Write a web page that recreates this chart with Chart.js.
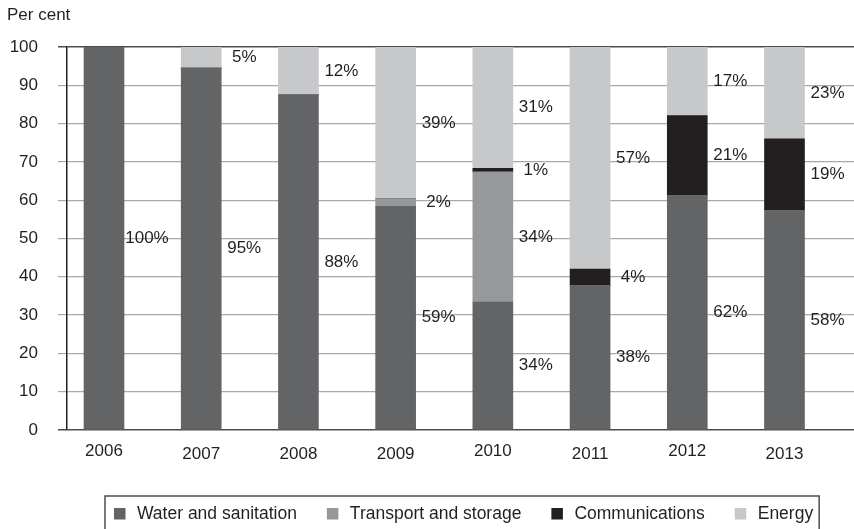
<!DOCTYPE html>
<html>
<head>
<meta charset="utf-8">
<script src="https://cdn.jsdelivr.net/npm/chart.js@4.4.0/dist/chart.umd.min.js"></script>
<style>
  html, body { margin: 0; padding: 0; background: #ffffff; }
  #wrap { width: 854px; height: 529px; position: relative; }
</style>
</head>
<body>
<div id="wrap"><canvas id="c" width="854" height="529"></canvas></div>
<script>
// ---- Data ----
const years = ['2006', '2007', '2008', '2009', '2010', '2011', '2012', '2013'];
const seriesNames = ['Water and sanitation', 'Transport and storage', 'Communications', 'Energy'];
const water          = [100, 94.5, 87.5, 58.4, 33.4, 37.7, 61.2, 57.3];
const transport      = [0,   0,    0,    2.0,  34.0, 0,    0,    0];
const communications = [0,   0,    0,    0,    0.9,  4.3,  20.9, 18.7];
const energy         = [0,   5.5,  12.5, 39.6, 31.7, 58.0, 17.9, 24.0];
const waterLabels          = ['100%', '95%', '88%', '59%', '34%', '38%', '62%', '58%'];
const transportLabels      = ['', '', '', '2%', '34%', '', '', ''];
const communicationsLabels = ['', '', '', '', '1%', '4%', '21%', '19%'];
const energyLabels         = ['', '5%', '12%', '39%', '31%', '57%', '17%', '23%'];
const yTicks = [0, 10, 20, 30, 40, 50, 60, 70, 80, 90, 100];

// ---- Styles ----
const FONT = '"Liberation Sans", Arial, Helvetica, sans-serif';
const TEXT = '#231f20';
const colors = ['#636466', '#97989b', '#231f20', '#c7c8ca'];
const raisedTickLabels = ['2006', '2010', '2012']; // slightly higher year labels in the original

const valueSets = [water, transport, communications, energy];
const labelSets = [waterLabels, transportLabels, communicationsLabels, energyLabels];

const datasets = valueSets.map((vals, k) => ({
  label: seriesNames[k],
  data: vals.map((v, i) => ({ x: i, y: v })),
  backgroundColor: colors[k],
  borderWidth: 0,
  barThickness: 40,
  pointLabels: labelSets[k]
}));

const valueLabelPlugin = {
  id: 'valueLabels',
  afterDatasetsDraw(chart) {
    const ctx = chart.ctx;
    ctx.save();
    ctx.font = '17px ' + FONT;
    ctx.fillStyle = TEXT;
    ctx.textAlign = 'center';
    ctx.textBaseline = 'middle';
    chart.data.datasets.forEach((ds, k) => {
      const meta = chart.getDatasetMeta(k);
      meta.data.forEach((bar, i) => {
        const txt = ds.pointLabels[i];
        if (!txt) return;
        const p = bar.getProps(['x', 'y', 'base'], true);
        ctx.fillText(txt, p.x + 43, (p.y + p.base) / 2);
      });
    });
    ctx.restore();
  }
};

const extrasPlugin = {
  id: 'extras',
  afterDraw(chart) {
    const ctx = chart.ctx;
    ctx.save();
    // axis title
    ctx.font = '17px ' + FONT;
    ctx.fillStyle = TEXT;
    ctx.textAlign = 'left';
    ctx.textBaseline = 'alphabetic';
    ctx.fillText('Per cent', 7, 20);

    // legend
    ctx.font = '17.5px ' + FONT;
    ctx.textBaseline = 'middle';
    let x = 114;
    const cy = 514;
    chart.data.datasets.forEach((ds, k) => {
      ctx.fillStyle = ds.backgroundColor;
      ctx.fillRect(x, cy - 6, 11.5, 11.5);
      ctx.fillStyle = TEXT;
      ctx.fillText(ds.label, x + 23, cy);
      const w = ctx.measureText(ds.label).width;
      x += 23 + w + (k < chart.data.datasets.length - 1 ? 30 : 0);
    });
    ctx.strokeStyle = '#4d4d4d';
    ctx.lineWidth = 1.5;
    ctx.strokeRect(105, 496, x + 6 - 105, 50);
    ctx.restore();
  }
};

new Chart(document.getElementById('c'), {
  type: 'bar',
  data: { datasets },
  options: {
    responsive: false,
    animation: false,
    devicePixelRatio: 1,
    layout: { padding: { left: 0, right: 0, top: 47, bottom: 49 } },
    plugins: { legend: { display: false }, tooltip: { enabled: false } },
    scales: {
      x: {
        type: 'linear',
        stacked: true,
        offset: false,
        min: -0.3806,
        max: 7.715,
        grid: { display: false, drawTicks: false, offset: false },
        border: { display: false },
        ticks: {
          stepSize: 1,
          includeBounds: false,
          padding: 13,
          color: TEXT,
          font: (c) => {
            const lbl = c.tick ? years[c.tick.value] : undefined;
            const raised = raisedTickLabels.includes(lbl);
            return { family: FONT, size: 17, lineHeight: raised ? 1.0 : 1.3 };
          },
          callback: (v) => (years[v] !== undefined ? years[v] : '')
        },
        afterFit: (s) => { s.height = 50; }
      },
      y: {
        stacked: true,
        min: 0,
        max: 100,
        afterBuildTicks: (s) => { s.ticks = yTicks.map(v => ({ value: v })); },
        ticks: {
          padding: 20,
          color: TEXT,
          font: { family: FONT, size: 17 }
        },
        grid: {
          drawTicks: true,
          tickLength: 9,
          color: (c) => (c.tick && (c.tick.value === 0 || c.tick.value === 100)) ? '#4d4d4d' : '#a9a9a9',
          lineWidth: (c) => (c.tick && (c.tick.value === 0 || c.tick.value === 100)) ? 1.5 : 1.2
        },
        border: { display: true, color: TEXT, width: 1.5 },
        afterFit: (s) => { s.width = 67; }
      }
    }
  },
  plugins: [valueLabelPlugin, extrasPlugin]
});
</script>
</body>
</html>
